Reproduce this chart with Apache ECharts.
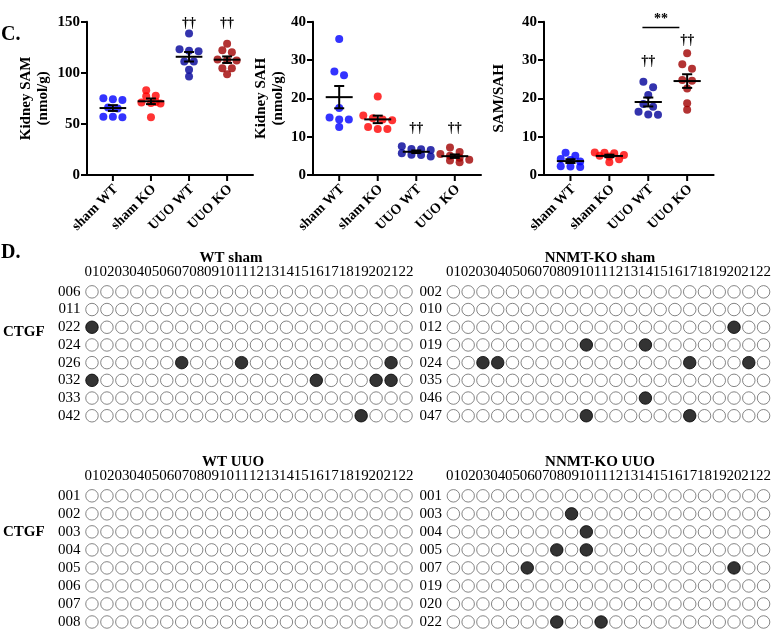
<!DOCTYPE html>
<html>
<head>
<meta charset="utf-8">
<script src="https://cdn.jsdelivr.net/npm/echarts@6/dist/echarts.min.js"></script>
<style>
  html, body { margin: 0; padding: 0; background: #fff; }
  #chart { width: 774px; height: 631px; }
</style>
</head>
<body>
<div id="chart"></div>
<script>
// ---- panel C data ----
const groups = ['sham WT', 'sham KO', 'UUO WT', 'UUO KO'];
const groupColors = ['#0000ff', '#ff0000', '#000099', '#a00000'];

const samShamWT = [75, 74, 73.5, 66, 65, 57, 57, 56.5];
const samShamKO = [83, 77.5, 77, 71.5, 71, 70.5, 70, 56.5];
const samUuoWT = [138.5, 123, 121.5, 121, 111, 111, 103, 96.5];
const samUuoKO = [128.5, 122, 120, 113, 112.5, 112, 104.5, 104.5, 98.5];

const sahShamWT = [35.5, 27, 26, 17.5, 15, 14.5, 14.5, 12.5];
const sahShamKO = [20.5, 15.5, 14.8, 14.5, 14.3, 12.5, 12, 12];
const sahUuoWT = [7.5, 6.8, 6.7, 6.5, 5.7, 5.3, 5.2, 4.8];
const sahUuoKO = [7.2, 6, 5.5, 5, 4.5, 4, 3.8, 3.3];

const ratioShamWT = [5.8, 5, 4.2, 3.9, 3.5, 2.3, 2.2, 2.1];
const ratioShamKO = [5.9, 5.8, 5.7, 5.2, 5, 4.8, 4.1, 3.3];
const ratioUuoWT = [24.3, 22.9, 20.9, 18.5, 17.8, 16.5, 15.8, 15.7];
const ratioUuoKO = [31.8, 28.9, 27.7, 24.8, 24.6, 22.6, 18.7, 17];

const samTicks = [0, 50, 100, 150];
const sahTicks = [0, 10, 20, 30, 40];

// significance marks: [x, y, text]
const samMarks = [[3, 148, '††'], [4, 148, '††']];
const sahMarks = [[3, 12.2, '††'], [4, 12.2, '††']];
const ratioMarks = [[3, 29.6, '††'], [4, 35.2, '††'], [3.33, 40.6, '**']];
const ratioBracket = [2.85, 3.8, 38.5];

// ---- panel D data ----
const cpgSites = ['01', '02', '03', '04', '05', '06', '07', '08', '09', '10', '11',
  '12', '13', '14', '15', '16', '17', '18', '19', '20', '21', '22'];

const wtShamMice = ['006', '011', '022', '024', '026', '032', '033', '042'];
const wtShamMethylated = [[], [], [1], [], [7, 11, 21], [1, 16, 20, 21], [], [19]];

const koShamMice = ['002', '010', '012', '019', '024', '035', '046', '047'];
const koShamMethylated = [[], [], [20], [10, 14], [3, 4, 17, 21], [], [14], [10, 17]];

const wtUuoMice = ['001', '002', '003', '004', '005', '006', '007', '008'];
const wtUuoMethylated = [[], [], [], [], [], [], [], []];

const koUuoMice = ['001', '003', '004', '005', '007', '019', '020', '022'];
const koUuoMethylated = [[], [9], [10], [8, 10], [6, 20], [], [], [8, 11]];

// ---- helpers ----
const SERIF = '"Liberation Serif", "Times New Roman", serif';

function mean(a) { return a.reduce((s, v) => s + v, 0) / a.length; }
function sem(a) {
  const m = mean(a);
  const v = a.reduce((s, x) => s + (x - m) * (x - m), 0) / (a.length - 1);
  return Math.sqrt(v / a.length);
}

// Prism-like scatter: points close in value share a row (max 4), centred on the column
function swarm(values, cat, pxPerUnit) {
  const sorted = values.slice().sort((a, b) => b - a);
  const rows = [];
  sorted.forEach(v => {
    const row = rows[rows.length - 1];
    if (row && row.length < 4 && (row[0] - v) * pxPerUnit <= 6) row.push(v);
    else rows.push([v]);
  });
  const out = [];
  rows.forEach(row => {
    row.forEach((v, i) => out.push([cat + (i - (row.length - 1) / 2) * 0.25, v]));
  });
  return out;
}

function line(p, q, w) {
  return { type: 'line', shape: { x1: p[0], y1: p[1], x2: q[0], y2: q[1] },
    style: { stroke: '#000', lineWidth: w || 2 } };
}

const grids = [];
const xAxes = [];
const yAxes = [];
const series = [];

function addDotPlot(gi, geom, sets, ticks, yName, nameGap, marks, bracket) {
  const yMax = ticks[ticks.length - 1];
  grids.push(geom);
  xAxes.push({
    type: 'value', gridIndex: gi, min: 0.32, max: 4.68,
    axisLine: { show: true, onZero: false, lineStyle: { color: '#000', width: 2 } },
    axisTick: { show: false }, axisLabel: { show: false }, splitLine: { show: false }
  });
  yAxes.push({
    type: 'value', gridIndex: gi, min: 0, max: yMax, interval: ticks[1] - ticks[0],
    name: yName, nameLocation: 'middle', nameGap: nameGap, nameRotate: 90,
    nameTextStyle: { fontFamily: SERIF, fontWeight: 'bold', fontSize: 15, lineHeight: 17, color: '#000' },
    axisLine: { show: true, lineStyle: { color: '#000', width: 2 } },
    axisTick: { show: true, length: 6, lineStyle: { color: '#000', width: 2 } },
    axisLabel: { fontFamily: SERIF, fontWeight: 'bold', fontSize: 15, color: '#000', margin: 7 },
    splitLine: { show: false }
  });
  const pxPerUnit = geom.height / yMax;
  sets.forEach((vals, i) => {
    series.push({
      type: 'scatter', xAxisIndex: gi, yAxisIndex: gi, symbolSize: 8, z: 2,
      itemStyle: { color: groupColors[i] }, silent: true,
      data: swarm(vals, i + 1, pxPerUnit)
    });
  });
  // mean +/- SEM
  series.push({
    type: 'custom', xAxisIndex: gi, yAxisIndex: gi, z: 5, silent: true,
    data: sets.map((vals, i) => [i + 1, mean(vals), sem(vals)]),
    renderItem: (params, api) => {
      const x = api.value(0), m = api.value(1), s = api.value(2);
      const c = p => api.coord(p);
      return { type: 'group', children: [
        line(c([x - 0.35, m]), c([x + 0.35, m])),
        line(c([x, m - s]), c([x, m + s])),
        line(c([x - 0.13, m + s]), c([x + 0.13, m + s])),
        line(c([x - 0.13, m - s]), c([x + 0.13, m - s]))
      ] };
    }
  });
  // category ticks and rotated labels
  series.push({
    type: 'custom', xAxisIndex: gi, yAxisIndex: gi, z: 5, silent: true,
    data: groups.map((g, i) => [i + 1, 0]),
    renderItem: (params, api) => {
      const p = api.coord([api.value(0), 0]);
      return { type: 'group', children: [
        line(p, [p[0], p[1] + 6]),
        { type: 'text', x: p[0] + 3, y: p[1] + 12, rotation: Math.PI / 4,
          style: { text: groups[params.dataIndex], fontFamily: SERIF, fontWeight: 'bold',
            fontSize: 14, fill: '#000', align: 'right', verticalAlign: 'middle' } }
      ] };
    }
  });
  // significance marks
  series.push({
    type: 'custom', xAxisIndex: gi, yAxisIndex: gi, z: 5, silent: true,
    data: marks.map(m => [m[0], m[1]]),
    renderItem: (params, api) => {
      const p = api.coord([api.value(0), api.value(1)]);
      return { type: 'text', x: p[0], y: p[1],
        style: { text: marks[params.dataIndex][2], fontFamily: SERIF, fontWeight: 'bold',
          fontSize: 14, fill: '#000', align: 'center', verticalAlign: 'middle' } };
    }
  });
  if (bracket) {
    series.push({
      type: 'custom', xAxisIndex: gi, yAxisIndex: gi, z: 5, silent: true,
      data: [[bracket[0], bracket[2], bracket[1]]],
      renderItem: (params, api) => {
        const a = api.coord([api.value(0), api.value(1)]);
        const b = api.coord([api.value(2), api.value(1)]);
        return line(a, b, 1.5);
      }
    });
  }
}

function addPanel(gi, geom, mice, methylated) {
  grids.push(geom);
  xAxes.push({
    type: 'category', gridIndex: gi, data: cpgSites, position: 'top',
    axisLine: { show: false }, axisTick: { show: false }, splitLine: { show: false },
    axisLabel: { interval: 0, margin: 3, fontFamily: SERIF, fontSize: 15, color: '#000' }
  });
  yAxes.push({
    type: 'category', gridIndex: gi, data: mice, inverse: true,
    axisLine: { show: false }, axisTick: { show: false }, splitLine: { show: false },
    axisLabel: { interval: 0, margin: 4, fontFamily: SERIF, fontSize: 15, color: '#000' }
  });
  const data = [];
  mice.forEach((m, r) => {
    cpgSites.forEach((s, c) => {
      const filled = methylated[r].indexOf(c + 1) >= 0;
      data.push({ value: [c, r], itemStyle: {
        color: filled ? '#000' : '#fff', borderColor: filled ? '#000' : '#666', borderWidth: 1 } });
    });
  });
  series.push({ type: 'scatter', xAxisIndex: gi, yAxisIndex: gi, symbol: 'circle',
    symbolSize: 12.5, silent: true, data: data });
}

addDotPlot(0, { left: 87, top: 21.7, width: 166, height: 153.3 },
  [samShamWT, samShamKO, samUuoWT, samUuoKO], samTicks, 'Kidney SAM\n(nmol/g)', 35, samMarks);
addDotPlot(1, { left: 313, top: 21.7, width: 168, height: 153.3 },
  [sahShamWT, sahShamKO, sahUuoWT, sahUuoKO], sahTicks, 'Kidney SAH\n(nmol/g)', 25, sahMarks);
addDotPlot(2, { left: 544, top: 21.7, width: 169.6, height: 153.3 },
  [ratioShamWT, ratioShamKO, ratioUuoWT, ratioUuoKO], sahTicks, 'SAM/SAH', 36, ratioMarks, ratioBracket);

addPanel(3, { left: 84.5, top: 283, width: 329, height: 141.6 }, wtShamMice, wtShamMethylated);
addPanel(4, { left: 446, top: 283, width: 328, height: 141.6 }, koShamMice, koShamMethylated);
addPanel(5, { left: 84.5, top: 486.8, width: 329, height: 146.4 }, wtUuoMice, wtUuoMethylated);
addPanel(6, { left: 446, top: 486.8, width: 328, height: 146.4 }, koUuoMice, koUuoMethylated);

function label(text, x, y, size, align) {
  return { type: 'text', x: x, y: y, silent: true,
    style: { text: text, fontFamily: SERIF, fontWeight: 'bold', fontSize: size, fill: '#000',
      align: align || 'center', verticalAlign: 'middle' } };
}

const chart = echarts.init(document.getElementById('chart'));
chart.setOption({
  animation: false,
  backgroundColor: '#fff',
  grid: grids,
  xAxis: xAxes,
  yAxis: yAxes,
  series: series,
  graphic: [
    label('C.', 1, 35, 20, 'left'),
    label('D.', 1, 253, 20, 'left'),
    label('WT sham', 231, 258, 15),
    label('NNMT-KO sham', 600, 258, 15),
    label('WT UUO', 233, 462, 15),
    label('NNMT-KO UUO', 600, 462, 15),
    label('CTGF', 3, 332, 15, 'left'),
    label('CTGF', 3, 532, 15, 'left')
  ]
});
</script>
</body>
</html>
